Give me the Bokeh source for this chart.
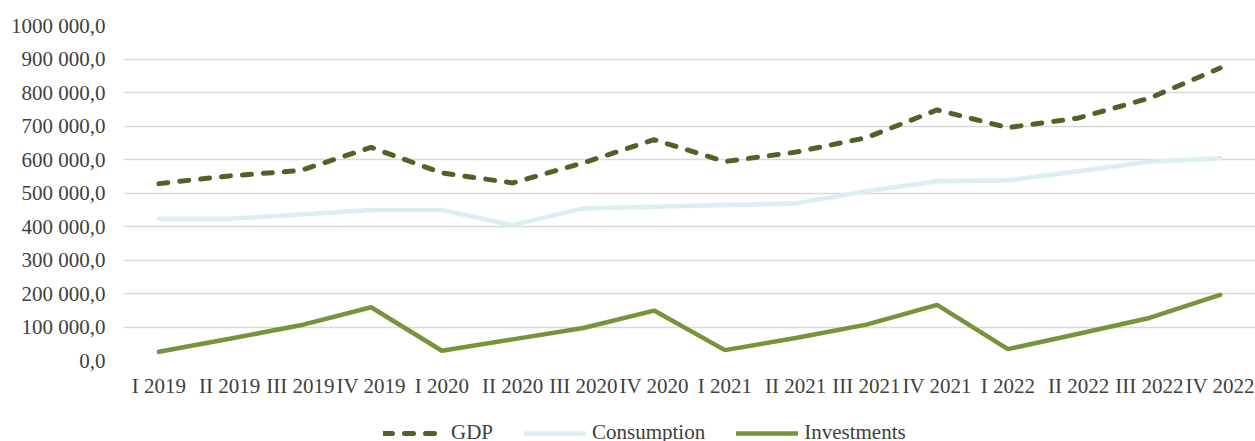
from bokeh.plotting import figure
from bokeh.layouts import column
from bokeh.models import FactorRange, Range1d, Legend, LegendItem, FixedTicker
from bokeh.embed import file_html
from bokeh.resources import INLINE

quarters = ["I 2019", "II 2019", "III 2019", "IV 2019",
            "I 2020", "II 2020", "III 2020", "IV 2020",
            "I 2021", "II 2021", "III 2021", "IV 2021",
            "I 2022", "II 2022", "III 2022", "IV 2022"]

gdp = [528000, 551000, 567000, 636000,
       560000, 530000, 590000, 659000,
       594000, 622000, 665000, 748000,
       695000, 724000, 783000, 873000]

consumption = [423000, 423000, 436000, 449000,
               449000, 404000, 454000, 459000,
               464000, 469000, 505000, 535000,
               538000, 565000, 593000, 604000]

investments = [26000, 65000, 105000, 159000,
               29000, 63000, 97000, 149000,
               31000, 67000, 107000, 166000,
               34000, 80000, 127000, 196000]

series_names = ["GDP", "Consumption", "Investments"]

y_ticks = [0, 100000, 200000, 300000, 400000, 500000,
           600000, 700000, 800000, 900000, 1000000]
y_tick_labels = ["0,0", "100 000,0", "200 000,0", "300 000,0", "400 000,0",
                 "500 000,0", "600 000,0", "700 000,0", "800 000,0",
                 "900 000,0", "1000 000,0"]

FONT = "Liberation Serif"
TEXT = "#404040"
styles = [dict(line_color="#4F6228", line_width=5, line_dash="9 12", line_cap="round"),
          dict(line_color="#DAEEF3", line_width=4.5, line_cap="round"),
          dict(line_color="#77933C", line_width=4.5, line_cap="round")]

p = figure(width=1255, height=400, output_backend="svg", toolbar_location=None,
           x_range=FactorRange(*quarters, range_padding=0),
           y_range=Range1d(0, 1000000),
           min_border_left=123, min_border_right=0,
           min_border_top=25, min_border_bottom=38)
p.outline_line_color = None
p.background_fill_color = "white"
p.border_fill_color = "white"

for data, st in zip([gdp, consumption, investments], styles):
    p.line(quarters, data, **st)

p.xgrid.grid_line_color = None
p.ygrid.grid_line_color = "#d9d9d9"
p.ygrid.grid_line_width = 1.5

p.yaxis.ticker = FixedTicker(ticks=y_ticks)
p.yaxis.major_label_overrides = {t: l for t, l in zip(y_ticks, y_tick_labels)}
for ax in (p.xaxis[0], p.yaxis[0]):
    ax.axis_line_color = None
    ax.major_tick_line_color = None
    ax.minor_tick_line_color = None
    ax.major_tick_out = 0
    ax.major_tick_in = 0
    ax.major_label_text_font = FONT
    ax.major_label_text_font_size = "21px"
    ax.major_label_text_color = TEXT
p.yaxis.major_label_standoff = 18
p.xaxis.major_label_standoff = 13

# legend strip below the chart (its lines lie far outside its visible range,
# only their legend swatches show)
lg = figure(width=1255, height=41, output_backend="svg", toolbar_location=None,
            x_range=Range1d(0, 1255), y_range=Range1d(0, 41),
            x_axis_location=None, y_axis_location=None,
            min_border=0, min_border_left=0, min_border_right=0,
            min_border_top=0, min_border_bottom=0)
lg.outline_line_color = None
lg.grid.grid_line_color = None
lg.background_fill_color = "white"
lg.border_fill_color = "white"
items = []
idx = list(range(len(quarters)))
for name, data, st in zip(series_names, [gdp, consumption, investments], styles):
    r = lg.line(idx, data, **st)
    items.append(LegendItem(label=name, renderers=[r]))

legend = Legend(items=items, orientation="horizontal", location=(260, -4),
                padding=0, margin=0, spacing=31, label_standoff=6,
                glyph_width=62, glyph_height=16, label_height=16,
                label_text_font=FONT, label_text_font_size="21px",
                label_text_color=TEXT,
                background_fill_alpha=0, border_line_color=None)
lg.add_layout(legend, "center")

layout = column(p, lg, spacing=0)
open("out.html", "w").write(file_html(layout, INLINE))
